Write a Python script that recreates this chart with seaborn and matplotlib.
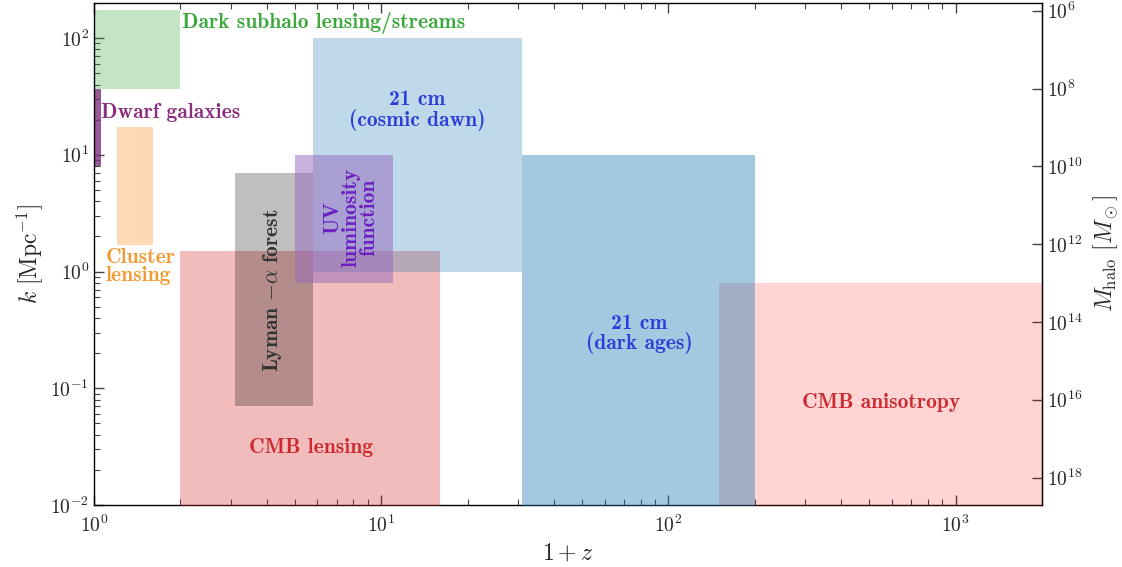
import numpy as np
import seaborn as sns
import matplotlib.pyplot as plt
from matplotlib.ticker import FixedLocator, FuncFormatter, NullLocator, LogLocator

# probes: redshift range (1+z) and wavenumber range k [1/Mpc]
probes = ["Dark subhalo lensing/streams", "Dwarf galaxies", "Cluster lensing",
          "CMB lensing", "Lyman alpha forest", "CMB anisotropy",
          "21 cm (cosmic dawn)", "UV luminosity function", "21 cm (dark ages)"]
x_lo = [1.0, 1.0, 1.2, 2.0, 3.1, 150, 5.8, 5.0, 31]
x_hi = [2.0, 1.055, 1.6, 16, 5.8, 2000, 31, 11, 200]
k_lo = [36.7, 8.0, 1.7, 1e-3, 0.07, 1e-3, 1.0, 0.8, 1e-3]
k_hi = [173, 37, 17.3, 1.5, 7.0, 0.8, 100, 10, 10]
colors = ["C2", "#7e2f7e", "C1", "C3", "black", "red", "C0", "C4", "C0"]
alphas = [0.28, 0.8, 0.3, 0.31, 0.25, 0.17, 0.28, 0.5, 0.4]

m_ticks = [1e6, 1e8, 1e10, 1e12, 1e14, 1e16, 1e18]

# halo mass for a given k: M = 4pi/3 rho_m (pi/k)^3
RHO_M = 3.9e10
M_CONST = 4 * np.pi / 3 * RHO_M * np.pi ** 3


def k_to_m(k):
    k = np.clip(k, 1e-30, None)
    return M_CONST / k ** 3


def m_to_k(m):
    m = np.clip(m, 1e-30, None)
    return (M_CONST / m) ** (1 / 3)


def pow10(v, pos):
    if v <= 0:
        return ""
    return rf"$10^{{{int(round(np.log10(v)))}}}$"


sns.set_style("ticks")
plt.rcParams["mathtext.fontset"] = "cm"
plt.rcParams["font.family"] = ["DejaVu Serif"]

fig = plt.figure(figsize=(11.22, 5.67), dpi=100)
ax = fig.add_axes([94 / 1122, 1 - 505 / 567, (1042 - 94) / 1122, (505 - 3) / 567])

for i in range(len(probes)):
    ax.fill_between([x_lo[i], x_hi[i]], k_lo[i], k_hi[i], color=colors[i],
                    alpha=alphas[i], lw=0, zorder=1 + i)

ax.set_xscale("log")
ax.set_yscale("log")
ax.set_xlim(1, 2000)
ax.set_ylim(0.01, 200)

bold = dict(fontfamily="cmb10", fontsize=15.5, zorder=20)
ax.text(2.02, 135, "Dark subhalo lensing/streams", color="#3ca83c", ha="left", va="center", **bold)
ax.text(1.06, 23, "Dwarf galaxies", color="#8b2e80", ha="left", va="center", **bold)
ax.text(1.1, 1.1, "Cluster\nlensing", color="#f39a33", ha="left", va="center",
        multialignment="left", linespacing=0.95, **bold)
ax.text(13.4, 24, "21 cm\n(cosmic dawn)", color="#2b3fd6", ha="center", va="center",
        linespacing=0.95, **bold)
ax.text(7.84, 2.9, "UV\nluminosity\nfunction", color="#6a20c0", ha="center", va="center",
        rotation=90, linespacing=0.95, **bold)
ax.text(4.2, 0.69, r"Lyman $-\alpha$ forest", color="#333333", ha="center", va="center",
        rotation=90, **bold)
ax.text(5.69, 0.031, "CMB lensing", color="#cc2a2f", ha="center", va="center", **bold)
ax.text(79, 0.29, "21 cm\n(dark ages)", color="#2b3fd6", ha="center", va="center",
        linespacing=0.95, **bold)
ax.text(551, 0.076, "CMB anisotropy", color="#cc2a2f", ha="center", va="center", **bold)

ax.set_xlabel(r"$1+z$", fontsize=17)
ax.set_ylabel(r"$k\ [\mathrm{Mpc}^{-1}]$", fontsize=17, labelpad=4)

ax.xaxis.set_major_locator(LogLocator(base=10, numticks=10))
ax.yaxis.set_major_locator(LogLocator(base=10, numticks=10))
ax.xaxis.set_major_formatter(FuncFormatter(pow10))
ax.yaxis.set_major_formatter(FuncFormatter(pow10))
ax.tick_params(which="both", direction="in", top=True, right=False, color="#444444")
ax.tick_params(which="major", length=7, width=1, labelsize=14)
ax.tick_params(axis="x", which="major", pad=7)
ax.tick_params(which="minor", length=4, width=0.8)

ax2 = ax.secondary_yaxis("right", functions=(k_to_m, m_to_k))
ax2.yaxis.set_major_locator(FixedLocator(m_ticks))
ax2.yaxis.set_minor_locator(NullLocator())
ax2.yaxis.set_major_formatter(FuncFormatter(pow10))
ax2.tick_params(which="major", direction="in", length=7, width=1, labelsize=14, color="#444444")
ax2.set_ylabel(r"$M_{\rm halo}\ [M_\odot]$", fontsize=17, labelpad=6)

for sp in ax.spines.values():
    sp.set_color("black")
    sp.set_linewidth(1.0)

fig.savefig("out.png", dpi=100)
